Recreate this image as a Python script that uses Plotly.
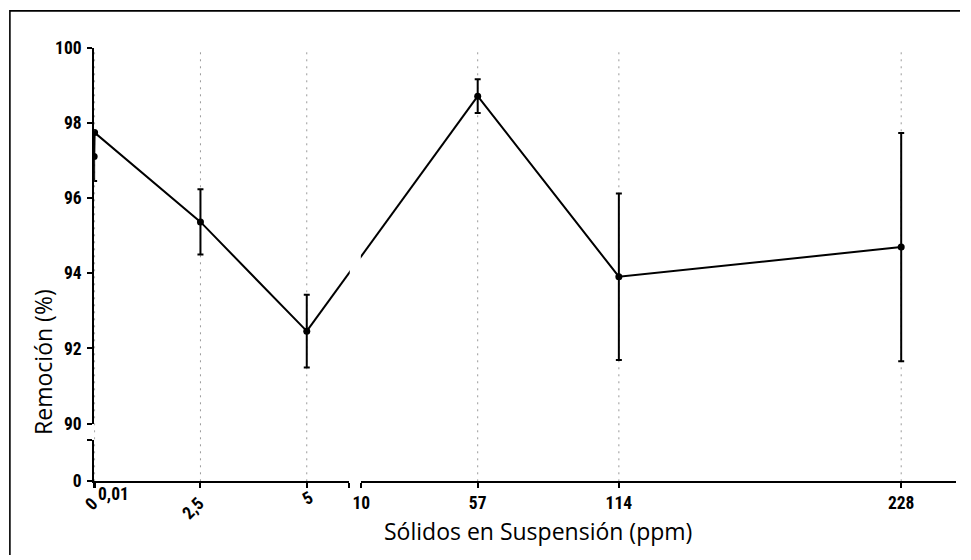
import plotly.graph_objects as go

# ---- data ----
x_ppm = [0, 0.01, 2.5, 5, 57, 114, 228]
removal = [97.11, 97.75, 95.37, 92.46, 98.72, 93.91, 94.70]
removal_err = [0.65, 0.0, 0.87, 0.97, 0.45, 2.22, 3.04]

left_ticks = [0, 0.01, 2.5, 5]
left_labels = ["0", "0,01", "2,5", "5"]
right_ticks = [10, 57, 114, 228]
right_labels = ["10", "57", "114", "228"]
y_ticks = [90, 92, 94, 96, 98, 100]
y_labels = ["90", "92", "94", "96", "98", "100"]
x_title = "Sólidos en Suspensión (ppm)"
y_title = "Remoción (%)"

# ---- geometry (calibrated page -> picture mapping) ----
PAGE_MARGIN = 8
SX, SY = 0.99, 0.968
W, H = 960, 555
def px(v): return (v / SX - PAGE_MARGIN) / W
def py(v): return 1 - (v / SY - PAGE_MARGIN) / H

XL = [px(93), px(348)]
XR = [px(360), px(954)]
LRANGE = [0, 6]
RRANGE = [10, 250]
Y_UP = [py(423), py(46)]
Y_LO = [py(481), py(440)]

def paper_left(v):
    return XL[0] + (v - LRANGE[0]) / (LRANGE[1] - LRANGE[0]) * (XL[1] - XL[0])

def paper_right(v):
    return XR[0] + (v - RRANGE[0]) / (RRANGE[1] - RRANGE[0]) * (XR[1] - XR[0])

tick_font = dict(family="Liberation Sans Narrow, Arial Narrow, Roboto Condensed, Liberation Sans, sans-serif",
                 size=17.5, color="black", weight="bold")
title_font = dict(family="Open Sans, sans-serif", size=23, color="black")

left_idx = [i for i, v in enumerate(x_ppm) if v <= LRANGE[1]]
right_idx = [i for i, v in enumerate(x_ppm) if v >= RRANGE[0]]

def sub(arr, idx):
    return [arr[i] for i in idx]

fig = go.Figure()
common = dict(mode="lines+markers",
              line=dict(color="black", width=2),
              marker=dict(color="black", size=7),
              showlegend=False, hoverinfo="skip")

fig.add_trace(go.Scatter(x=sub(x_ppm, left_idx), y=sub(removal, left_idx),
                         error_y=dict(type="data", array=sub(removal_err, left_idx),
                                      color="black", thickness=2, width=3),
                         xaxis="x", yaxis="y2", **common))
fig.add_trace(go.Scatter(x=sub(x_ppm, right_idx), y=sub(removal, right_idx),
                         error_y=dict(type="data", array=sub(removal_err, right_idx),
                                      color="black", thickness=2, width=3),
                         xaxis="x2", yaxis="y2", **common))
# empty trace to instantiate lower y segment
fig.add_trace(go.Scatter(x=[], y=[], xaxis="x", yaxis="y3", showlegend=False))

shapes = []
grid_style = dict(color="#9a9a9a", width=1, dash="2px,5px")
for v in left_ticks:
    if v > 0:
        shapes.append(dict(type="line", xref="x", yref="paper", x0=v, x1=v,
                           y0=Y_LO[0], y1=Y_UP[1], line=grid_style, layer="below"))
for v in right_ticks:
    if v > RRANGE[0]:
        shapes.append(dict(type="line", xref="x2", yref="paper", x0=v, x1=v,
                           y0=Y_LO[0], y1=Y_UP[1], line=grid_style, layer="below"))

# connector across the x-axis break (5 -> 57)
i5 = left_idx[-1]
i57 = right_idx[0]
shapes.append(dict(type="line", xref="paper", yref="y2",
                   x0=paper_left(x_ppm[i5]), y0=removal[i5],
                   x1=paper_right(x_ppm[i57]), y1=removal[i57],
                   line=dict(color="black", width=2), layer="above"))
# break gap mask
shapes.append(dict(type="rect", xref="paper", yref="paper",
                   x0=XL[1] + 0.0005, x1=XR[0] - 0.0005, y0=Y_UP[0], y1=Y_UP[1],
                   fillcolor="white", line=dict(width=0), layer="above"))
# outer frame (top and left edges visible)
shapes.append(dict(type="rect", xref="paper", yref="paper",
                   x0=0.9 / W, y0=-0.05, x1=1.05, y1=1 - 0.9 / H,
                   line=dict(color="black", width=1.6), fillcolor="rgba(0,0,0,0)", layer="above"))

annotations = []
label_style = [dict(angle=-45, dx=-3, dy=22),
               dict(angle=0, dx=19, dy=12),
               dict(angle=-45, dx=-7, dy=26),
               dict(angle=-30, dx=1, dy=16)]
for v, t, st in zip(left_ticks, left_labels, label_style):
    annotations.append(dict(x=v, xref="x", y=Y_LO[0], yref="paper", text=t,
                            showarrow=False, xanchor="center", yanchor="middle",
                            xshift=st["dx"] / SX, yshift=-st["dy"] / SY, textangle=st["angle"],
                            font=tick_font))
annotations.append(dict(x=px(537), y=py(531), xref="paper", yref="paper", text=x_title,
                        showarrow=False, xanchor="center", yanchor="middle", font=title_font))
annotations.append(dict(x=px(42), y=py(361), xref="paper", yref="paper", text=y_title,
                        showarrow=False, xanchor="center", yanchor="middle", textangle=-90,
                        font=title_font))

axis_common = dict(showline=True, linecolor="black", linewidth=2, ticks="outside",
                   tickcolor="black", tickwidth=2, ticklen=5, showgrid=False,
                   zeroline=False, tickfont=tick_font, fixedrange=True)

fig.update_layout(
    width=W, height=H,
    margin=dict(l=0, r=0, t=0, b=0),
    paper_bgcolor="white", plot_bgcolor="rgba(0,0,0,0)",
    xaxis=dict(domain=XL, range=LRANGE, anchor="y3", tickmode="array",
               tickvals=left_ticks + [LRANGE[1]], showticklabels=False, **axis_common),
    xaxis2=dict(domain=XR, range=RRANGE, anchor="y3", tickmode="array",
                tickvals=right_ticks, ticktext=right_labels, ticklabelstandoff=0, **axis_common),
    yaxis2=dict(domain=Y_UP, range=[90, 100], anchor="x", tickmode="array",
                tickvals=y_ticks, ticktext=y_labels, ticklabelstandoff=2, **axis_common),
    yaxis3=dict(domain=Y_LO, range=[0, 1], anchor="x", tickmode="array",
                tickvals=[0, 1], ticktext=["0", ""], ticklabelstandoff=2, **axis_common),
    shapes=shapes,
    annotations=annotations,
)

fig.write_html("out.html")
